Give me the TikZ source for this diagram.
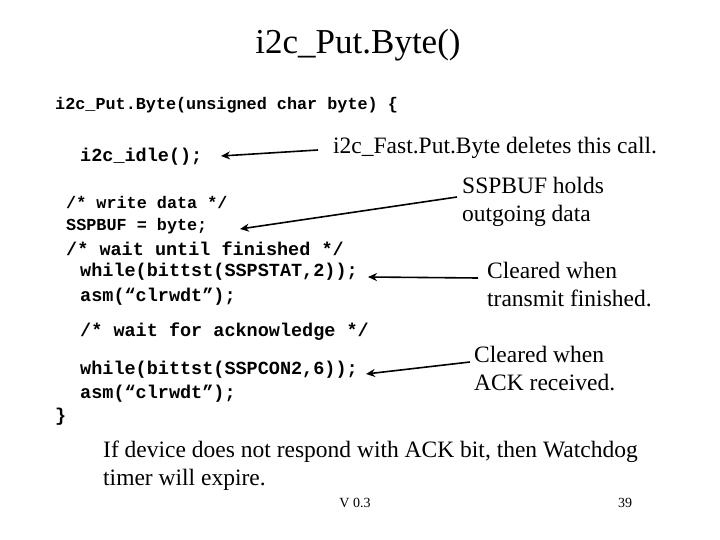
\documentclass[tikz,border=0pt]{standalone}
\usepackage{fontspec}
\setmainfont{Liberation Serif}
\newfontfamily\codef{Liberation Mono}
\usetikzlibrary{arrows.meta}
\begin{document}
\begin{tikzpicture}[x=1pt,y=-1pt,
 code/.style={anchor=west,inner sep=0pt,font=\codef\bfseries\fontsize{18.5}{22}\selectfont},
 codes/.style={anchor=west,inner sep=0pt,font=\codef\bfseries\fontsize{16.8}{20}\selectfont},
 note/.style={anchor=west,inner sep=0pt,font=\fontsize{23.5}{28}\selectfont},
 arr/.style={line width=1.6pt,-{Stealth[length=9pt,width=8pt]}}]
\useasboundingbox (0,0) rectangle (720,540);
\node[inner sep=0pt,font=\fontsize{35}{40}\selectfont] (title) at (358,45) {i2c\_Put.Byte()};
\node[codes] (c0) at (55,105) {i2c\_Put.Byte(unsigned char byte) \{};
\node[code] (c1) at (80,157) {i2c\_idle();};
\node[codes] (c2) at (66,202) {/* write data */};
\node[codes] (c3) at (66,226) {SSPBUF = byte;};
\node[code] (c4) at (66,249) {/* wait until finished */};
\node[code] (c5) at (80,272) {while(bittst(SSPSTAT,2));};
\node[code] (c6) at (80,297) {asm(“clrwdt”);};
\node[code] (c7) at (80,332) {/* wait for acknowledge */};
\node[code] (c8) at (80,370) {while(bittst(SSPCON2,6));};
\node[code] (c9) at (80,394) {asm(“clrwdt”);};
\node[code] (c10) at (55,417) {\}};
\node[note] (n1) at (333,148) {i2c\_Fast.Put.Byte deletes this call.};
\node[note,align=left] (n2) at (462,202) {SSPBUF holds\\outgoing data};
\node[note,align=left] (n3) at (487,285) {Cleared when\\transmit finished.};
\node[note,align=left] (n4) at (474,369) {Cleared when\\ACK received.};
\node[note,align=left] (n5) at (103,466) {If device does not respond with ACK bit, then Watchdog\\timer will expire.};
\node[inner sep=0pt,font=\fontsize{14}{16}\selectfont] (v) at (355,503) {V 0.3};
\node[inner sep=0pt,font=\fontsize{14}{16}\selectfont] (pg) at (625,503) {39};
\coordinate (a1s) at (318,150); \coordinate (a1e) at (221,156);
\draw[arr] (a1s) -- (a1e);
\coordinate (a2s) at (457,197); \coordinate (a2e) at (240,229);
\draw[arr] (a2s) -- (a2e);
\coordinate (a3s) at (478,278); \coordinate (a3e) at (368,277);
\draw[arr] (a3s) -- (a3e);
\coordinate (a4s) at (470,362); \coordinate (a4e) at (366,374);
\draw[arr] (a4s) -- (a4e);
\end{tikzpicture}
\end{document}
